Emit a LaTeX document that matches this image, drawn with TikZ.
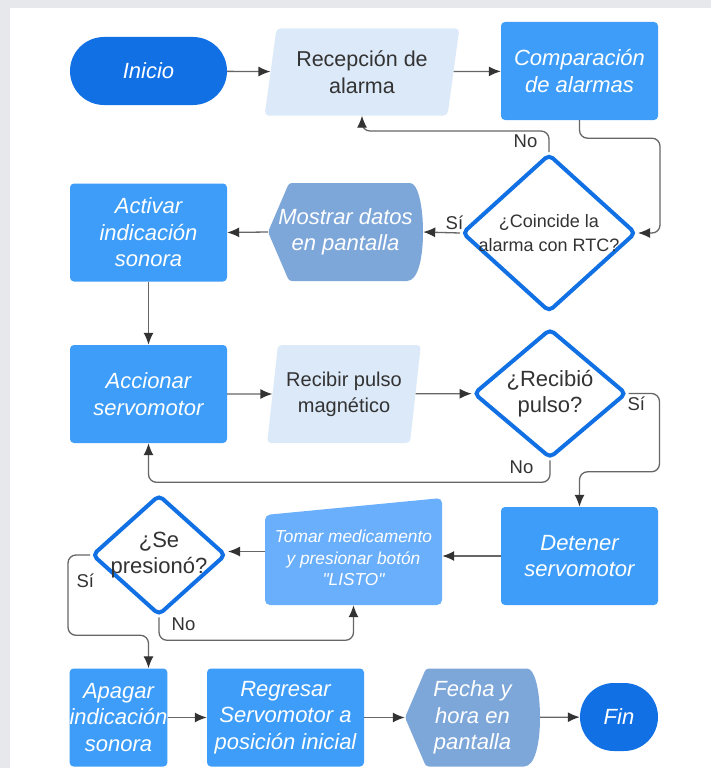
\documentclass[tikz,border=0pt]{standalone}
\usepackage{fontspec}
\setmainfont{Liberation Sans}
\usetikzlibrary{shapes.geometric,shapes.misc,arrows.meta}
\definecolor{azulosc}{HTML}{1170E4}
\definecolor{azul}{HTML}{3D9DF8}
\definecolor{celeste}{HTML}{DCE9F8}
\definecolor{grisazul}{HTML}{7EA7D9}
\definecolor{azulclaro}{HTML}{6AAFFC}
\definecolor{linea}{HTML}{666666}
\definecolor{texto}{HTML}{333333}
\definecolor{fondo}{HTML}{E6E8EB}
\tikzset{
		terminal/.style={
			rounded rectangle, fill=azulosc, text=white, minimum height=68pt, inner sep=0pt, font=\fontsize{22}{27}\selectfont\itshape},
		proceso/.style={
			rectangle, rounded corners=4pt, fill=azul, text=white, minimum width=157pt, minimum height=98pt, inner sep=0pt, align=center, font=\fontsize{22}{26.5}\selectfont\itshape},
		entrada/.style={
			trapezium, trapezium left angle=78, trapezium right angle=102, trapezium stretches=true, rounded corners=4pt, fill=celeste, text=texto, minimum width=195pt, minimum height=87pt, inner sep=0pt, align=center, font=\fontsize{21.5}{27}\selectfont},
		decision/.style={
			diamond, draw=azulosc, line width=4pt, rounded corners=5pt, fill=white, text=texto, inner sep=0pt, align=center},
		pantalla/.style={
			rectangle, minimum width=155pt, minimum height=98pt, inner sep=0pt, text=white, align=center, font=\fontsize{22}{26.5}\selectfont\itshape,
			path picture={\fill[grisazul, rounded corners=3pt] (path picture bounding box.west)
				-- ([xshift=21pt]path picture bounding box.north west)
				-- ([xshift=-16pt]path picture bounding box.north east)
				[sharp corners] .. controls ([xshift=-5pt]path picture bounding box.north east) and ([yshift=26pt]path picture bounding box.east) .. (path picture bounding box.east)
				.. controls ([yshift=-26pt]path picture bounding box.east) and ([xshift=-5pt]path picture bounding box.south east) .. ([xshift=-16pt]path picture bounding box.south east)
				[rounded corners=3pt] -- ([xshift=21pt]path picture bounding box.south west) -- cycle;}},
		manual/.style={
			rectangle, minimum width=177pt, minimum height=107pt, inner sep=0pt, text=white, align=center, font=\fontsize{17.3}{21.5}\selectfont\itshape,
			path picture={\fill[azulclaro, rounded corners=5pt] ([yshift=-17pt]path picture bounding box.north west)
				-- (path picture bounding box.north east) -- (path picture bounding box.south east)
				-- (path picture bounding box.south west) -- cycle;}},
		flujo/.style={draw=linea, line width=1.3pt, rounded corners=8pt, -{Latex[length=12pt,width=10pt,color=texto]}},
		rotulo/.style={text=texto, font=\fontsize{18.5}{20}\selectfont, inner sep=2pt},
	}

\begin{document}
\begin{tikzpicture}[x=1pt, y=-1pt]
			\useasboundingbox (0,0) rectangle (711,768);
			\fill[fondo] (0,0) rectangle (711,768);
			\fill[white] (10,8) rectangle (711,768);
			\node[terminal, minimum width=157pt] (inicio) at (148.5,71) {Inicio};
			\node[entrada] (recepcion) at (362,72) {Recepción de\\alarma};
			\node[proceso] (comparacion) at (579.5,71) {Comparación\\de alarmas};
			\node[decision, minimum width=174pt, minimum height=156pt, inner xsep=-10pt, font=\fontsize{18}{24}\selectfont] (coincide) at (549,233) {¿Coincide la\\alarma con RTC?};
			\node[pantalla] (mostrar) at (345.5,232) {Mostrar datos\\en pantalla};
			\node[proceso] (activar) at (148.5,232.5) {Activar\\indicación\\sonora};
			\node[proceso] (accionar) at (148.5,394) {Accionar\\servomotor};
			\node[entrada, minimum width=154pt, minimum height=98pt, font=\fontsize{20}{26}\selectfont] (recibir) at (344,394) {Recibir pulso\\magnético};
			\node[decision, minimum width=153pt, minimum height=114pt, inner xsep=-2pt, font=\fontsize{22}{26}\selectfont] (recibio) at (550,393.5) {¿Recibió\\pulso?};
			\node[proceso] (detener) at (579.5,556) {Detener\\servomotor};
			\node[manual] (tomar) at (353.5,551.5) {\rule{0pt}{26pt}Tomar medicamento\\y presionar botón\\\textquotedbl LISTO\textquotedbl};
			\node[decision, minimum width=134pt, minimum height=116pt, inner xsep=-11pt, font=\fontsize{22}{26}\selectfont] (presiono) at (159,555) {¿Se\\presionó?};
			\node[proceso, minimum width=97pt] (apagar) at (118.5,717.5) {Apagar\\indicación\\sonora};
			\node[proceso] (regresar) at (285.5,717.5) {Regresar\\Servomotor a\\posición inicial};
			\node[pantalla, minimum width=135pt] (fecha) at (472.5,717.5) {Fecha y\\hora en\\pantalla};
			\node[terminal, minimum width=78pt] (fin) at (619,717) {Fin};
			\draw[flujo] (inicio) -- (recepcion);
			\draw[flujo] (recepcion) -- (comparacion);
			\draw[flujo] (comparacion.south) -- ++(0,18) -| ([xshift=22pt]coincide.east) -- (coincide.east);
			\draw[flujo] (coincide.north) -- node[rotulo, left=9pt]{No} ++(0,-21) -| (recepcion.south);
			\draw[flujo] (coincide.west) -- node[rotulo, above=1pt, pos=0.15]{Sí} (mostrar.east);
			\draw[flujo] (mostrar.west) -- (activar.east);
			\draw[flujo] (activar) -- (accionar);
			\draw[flujo] (accionar) -- (recibir);
			\draw[flujo] (recibir) -- (recibio);
			\draw[flujo] (recibio.east) -- node[rotulo, below=1pt, pos=0.25]{Sí} ++(31,0) |- ([yshift=35pt]detener.north) -- (detener.north);
			\draw[flujo] (recibio.south) -- node[rotulo, left=14pt, pos=0.3]{No} ++(0,22) -| (accionar.south);
			\draw[flujo] (detener.west) -- (detener.west -| tomar.east);
			\draw[flujo] (tomar.west) -- (tomar.west -| presiono.east);
			\draw[flujo] (presiono.west) -- ++(-22,0) |- node[rotulo, right=6pt, pos=0.16]{Sí} ([shift={(30pt,33pt)}]apagar.north) -- ([xshift=30pt]apagar.north);
			\draw[flujo] (presiono.south) -- node[rotulo, right=10pt, pos=0.3]{No} ++(0,23) -| (tomar.south);
			\draw[flujo] (apagar) -- (regresar);
			\draw[flujo] (regresar) -- (fecha);
			\draw[flujo] (fecha) -- (fin);
\end{tikzpicture}
\end{document}
